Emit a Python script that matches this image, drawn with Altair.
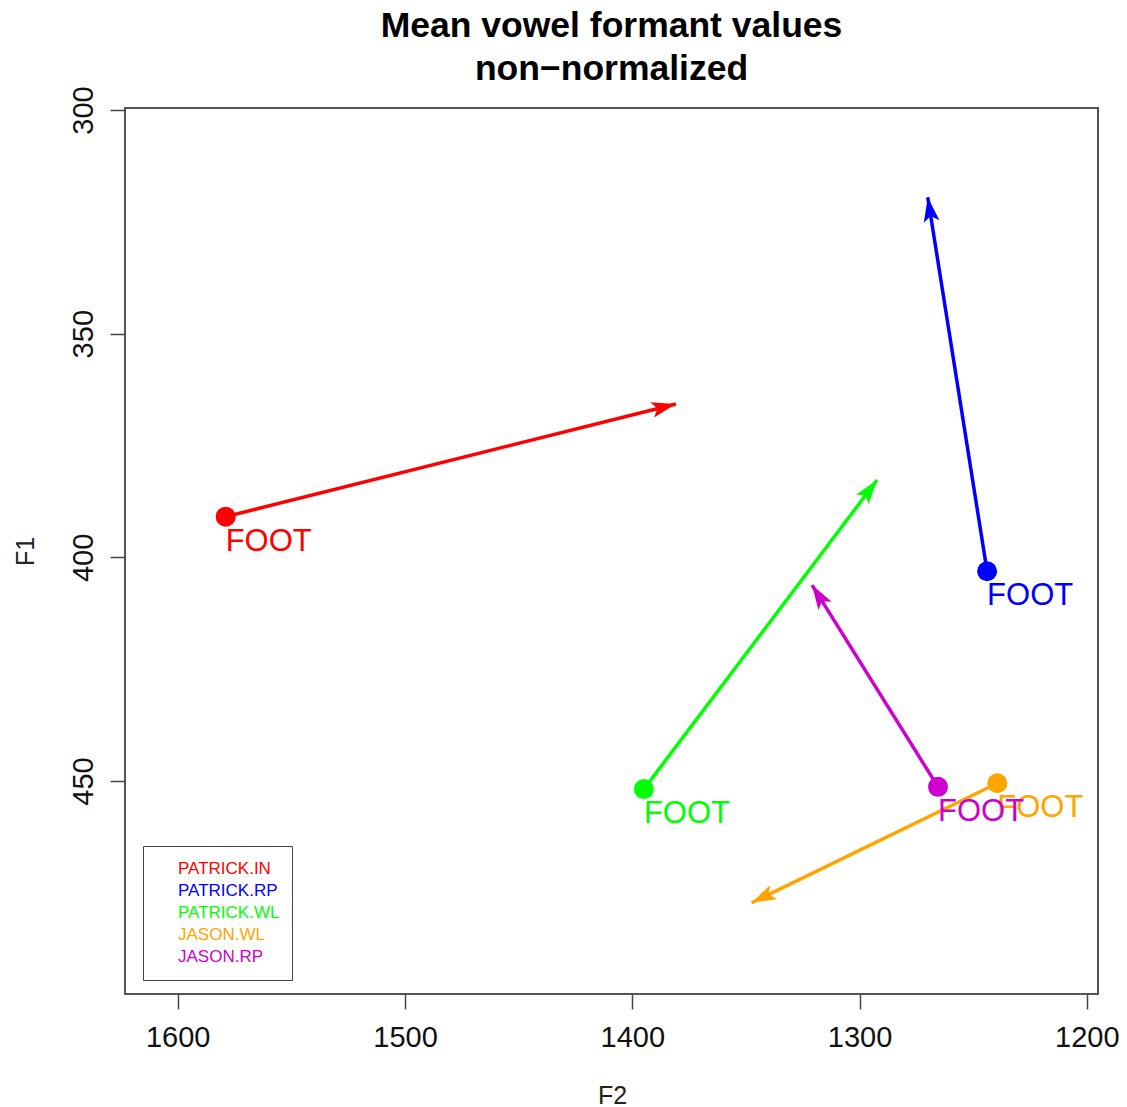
import math
import altair as alt
import pandas as pd

# ---- data ----
series = ["PATRICK.IN", "PATRICK.RP", "PATRICK.WL", "JASON.WL", "JASON.RP"]
colors = ["#ff0000", "#0000ff", "#00ff00", "#ffa500", "#cd00cd"]
vowel = ["FOOT", "FOOT", "FOOT", "FOOT", "FOOT"]
f2_start = [1578.9, 1243.9, 1394.9, 1239.4, 1265.5]
f1_start = [390.9, 403.1, 451.8, 450.5, 451.3]
f2_end = [1380.8, 1270.0, 1292.3, 1347.5, 1320.9]
f1_end = [365.7, 319.5, 382.7, 477.2, 406.2]

x_ticks = [1200, 1300, 1400, 1500, 1600]
y_ticks = [300, 350, 400, 450]
x_domain = [1195.1, 1623.2]
y_domain = [299.55, 497.6]

W, H = 973, 886
FONT = "Liberation Sans"

# arrow-head rotation derived from the scales (pixels per unit)
kx = W / (x_domain[1] - x_domain[0])
ky = H / (y_domain[1] - y_domain[0])
angles = []
for xs, ys, xe, ye in zip(f2_start, f1_start, f2_end, f1_end):
    dx = -(xe - xs) * kx      # x scale reversed
    dy = (ye - ys) * ky       # y scale reversed (F1 grows downward)
    angles.append(math.degrees(math.atan2(dx, -dy)) % 360)

df = pd.DataFrame({
    "series": series,
    "vowel": vowel,
    "f2s": f2_start,
    "f1s": f1_start,
    "f2e": f2_end,
    "f1e": f1_end,
    "angle": angles,
})

xscale = alt.Scale(domain=x_domain, reverse=True, nice=False, zero=False)
yscale = alt.Scale(domain=y_domain, reverse=True, nice=False, zero=False)

x_axis = alt.Axis(
    values=x_ticks, format="d", domain=False, grid=False,
    tickSize=15, tickColor="#444", tickWidth=1.5,
    labelFont=FONT, labelFontSize=29, labelPadding=14, labelColor="#111",
    labelFlush=False, labelOverlap=False,
    title="F2", titleFont=FONT, titleFontSize=25, titleFontWeight="normal",
    titleColor="#222", titleX=487, titleY=109, titleBaseline="alphabetic",
    titleAlign="center",
)
y_axis = alt.Axis(
    values=y_ticks, format="d", domain=False, grid=False,
    tickSize=15, tickColor="#444", tickWidth=1.5,
    labelFont=FONT, labelFontSize=29, labelPadding=18, labelColor="#111",
    labelAngle=-90, labelAlign="center", labelBaseline="alphabetic",
    labelFlush=False, labelOverlap=False,
    title="F1", titleFont=FONT, titleFontSize=25, titleFontWeight="normal",
    titleColor="#222", titleX=-92, titleY=443, titleBaseline="alphabetic",
    titleAlign="center", titleAngle=-90,
)

legend = alt.Legend(
    title=None, orient="none", legendX=18, legendY=738,
    symbolType="circle", symbolSize=460, symbolOpacity=0, symbolStrokeWidth=0,
    labelFont=FONT, labelFontSize=17, labelOffset=1,
    labelColor={"expr": "scale('color', datum.value)"},
    padding=12, rowPadding=0, strokeColor="#444", fillColor="white",
)
color = alt.Color("series:N", scale=alt.Scale(domain=series, range=colors), legend=legend)

base = alt.Chart(df)

rules = base.mark_rule(strokeWidth=3.5).encode(
    x=alt.X("f2s:Q", scale=xscale, axis=x_axis),
    y=alt.Y("f1s:Q", scale=yscale, axis=y_axis),
    x2="f2e:Q", y2="f1e:Q",
    color=color,
)

heads = base.mark_point(
    shape="M0,0L-0.5,1.55L0,1.2L0.5,1.55Z", filled=True, size=1000, opacity=1,
).encode(
    x=alt.X("f2e:Q", scale=xscale, axis=x_axis),
    y=alt.Y("f1e:Q", scale=yscale, axis=y_axis),
    angle=alt.Angle("angle:Q", scale=None),
    color=color,
)

points = base.mark_circle(size=400, opacity=1).encode(
    x=alt.X("f2s:Q", scale=xscale, axis=x_axis),
    y=alt.Y("f1s:Q", scale=yscale, axis=y_axis),
    color=color,
)

labels = base.mark_text(
    align="left", baseline="alphabetic", dy=34, fontSize=31, font=FONT,
).encode(
    x=alt.X("f2s:Q", scale=xscale, axis=x_axis),
    y=alt.Y("f1s:Q", scale=yscale, axis=y_axis),
    text="vowel:N",
    color=color,
)

chart = alt.layer(rules, heads, points, labels).properties(
    width=W, height=H,
    background="white",
    title=alt.TitleParams(
        ["Mean vowel formant values", "non\u2212normalized"],
        font=FONT, fontSize=35.5, fontWeight="bold", color="black",
        lineHeight=43, anchor="middle", frame="group",
        baseline="alphabetic", offset=8, dy=38,
    ),
    autosize=alt.AutoSizeParams(type="none"),
    padding={"left": 125, "top": 108, "right": 29, "bottom": 113},
).configure_view(
    stroke="#555", strokeWidth=2,
)

chart.save("out.html", embed_options={"renderer": "svg", "actions": False})
